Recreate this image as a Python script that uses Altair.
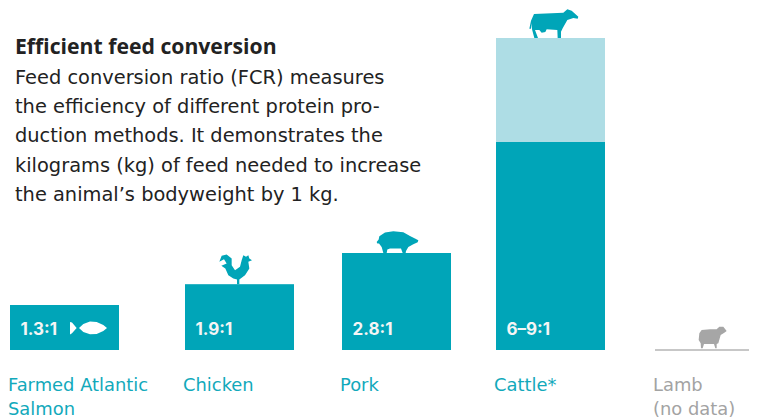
import altair as alt
import pandas as pd

categories = ["Farmed Atlantic\nSalmon", "Chicken", "Pork", "Cattle*"]
low_values = [1.3, 1.9, 2.8, 6]
high_values = [1.3, 1.9, 2.8, 9]
ratio_labels = ["1.3:1", "1.9:1", "2.8:1", "6–9:1"]
slots = [0, 1, 2, 3]
lamb_label = "Lamb\n(no data)"
title_text = "Efficient feed conversion"
body_text = ("Feed conversion ratio (FCR) measures\n"
             "the efficiency of different protein pro-\n"
             "duction methods. It demonstrates the\n"
             "kilograms (kg) of feed needed to increase\n"
             "the animal’s bodyweight by 1 kg.")

TEAL = "#00A5B8"
LIGHT = "#AEDDE5"
GREY = "#A6A6A6"
FONT = "DejaVu Sans"
BOLD = "Open Sans"


def glyph(groups, ox, oy):
    """Outline traced in 3x pixels -> symbol path relative to the anchor (size=4 means 1 unit = 1 px)."""
    out = []
    for pts in groups:
        s = " L ".join(f"{x / 3 - ox:.2f} {y / 3 - oy:.2f}" for x, y in pts)
        out.append(f"M {s} Z")
    return " ".join(out)


fish = glyph([
    [(57, 48), (70, 36), (90, 29), (110, 30), (130, 39), (141, 48), (130, 57), (110, 66), (90, 67), (70, 60)],
    [(30, 30), (36, 32), (50, 48), (36, 64), (30, 68)],
], 4.5, -7)
chicken = glyph([[(718, 192), (718, 178), (735, 165), (748, 145), (745, 125), (756, 120), (748, 115), (745, 105),
                  (738, 110), (730, 105), (725, 120), (720, 140), (705, 150), (695, 135), (695, 115), (680, 103),
                  (665, 107), (658, 125), (672, 117), (680, 130), (664, 137), (676, 145), (685, 165), (700, 175),
                  (711, 178), (711, 192)]], 239.5, 64)
pig = glyph([[(20, 45), (26, 38), (28, 28), (45, 17), (70, 13), (100, 16), (120, 27), (135, 35), (145, 40), (143, 46),
              (130, 52), (115, 60), (108, 72), (107, 78), (98, 78), (93, 65), (60, 65), (52, 68), (50, 78), (40, 78),
              (35, 60), (27, 50), (22, 50)]], 26.5, 26)
cow = glyph([[(148, 86), (153, 62), (162, 42), (250, 38), (262, 28), (275, 32), (295, 50), (293, 56), (280, 54),
              (262, 60), (248, 85), (243, 95), (243, 114), (233, 114), (232, 90), (200, 88), (196, 96), (185, 98),
              (178, 90), (165, 90), (174, 114), (163, 114), (156, 88), (156, 70), (153, 86)]], 70.5, 38)
sheep = glyph([[(28, 40), (35, 30), (60, 28), (80, 28), (88, 20), (100, 20), (110, 33), (103, 38), (92, 45), (85, 70),
                (80, 72), (80, 85), (76, 85), (72, 72), (42, 72), (38, 85), (33, 85), (32, 70), (26, 60)]], 16, 30)

bars = pd.DataFrame({"slot": slots, "low": low_values, "high": high_values,
                     "cat": categories, "ratio": ratio_labels,
                     "icon": [fish, chicken, pig, cow],
                     "tint": ["#FFFFFF", TEAL, TEAL, TEAL]})
lamb = pd.DataFrame({"slot": [4], "zero": [0], "cat": [lamb_label], "icon": [sheep], "tint": [GREY]})

x = alt.X("slot:Q", axis=None,
          scale=alt.Scale(domain=[0, 1, 2, 3, 4], range=[56.5, 231.5, 388.5, 542.5, 698], padding=0))
yscale = alt.Scale(domain=[0, 9], range=[342, 30], nice=False, zero=False, padding=0)


def Y(f):
    return alt.Y(f, axis=None, scale=yscale)


base = alt.Chart(bars)
high = base.mark_bar(width=109, color=LIGHT).encode(x=x, y=Y("high:Q"))
low = base.mark_bar(width=109, color=TEAL).encode(x=x, y=Y("low:Q"))
ratio = alt.Chart(bars).transform_calculate(z="0").mark_text(
    align="left", baseline="alphabetic", dx=-44, dy=-15, font="Inter", fontWeight="bold", fontSize=17, color="#F5F5F5"
).encode(x=x, y=Y("z:Q"), text="ratio:N")
cat = alt.Chart(bars).transform_calculate(z="0").mark_text(
    align="left", baseline="alphabetic", dx=-56.5, dy=41, font=FONT, fontSize=17.9, lineBreak="\n", lineHeight=24,
    color="#12A9BB"
).encode(x=x, y=Y("z:Q"), text="cat:N")
icons = base.mark_point(filled=True, opacity=1, strokeWidth=0, size=4).encode(
    x=x, y=Y("high:Q"), shape=alt.Shape("icon:N", scale=None), color=alt.Color("tint:N", scale=None))

lamb_base = alt.Chart(lamb)
lamb_line = lamb_base.mark_tick(orient="horizontal", size=102, thickness=1.5, color="#B5B5B5", opacity=1).encode(
    x=x, y=Y("zero:Q"))
lamb_icon = lamb_base.mark_point(filled=True, opacity=1, strokeWidth=0, size=4).encode(
    x=x, y=Y("zero:Q"), shape=alt.Shape("icon:N", scale=None), color=alt.Color("tint:N", scale=None))
lamb_text = lamb_base.mark_text(
    align="left", baseline="alphabetic", dx=-53, dy=41, font=FONT, fontSize=17.9, lineBreak="\n", lineHeight=24,
    color="#A3A3A3"
).encode(x=x, y=Y("zero:Q"), text="cat:N")

title = alt.Chart(pd.DataFrame({"t": [title_text]})).mark_text(
    align="left", baseline="alphabetic", font=BOLD, fontWeight="bold", fontSize=21.2, color="#222222"
).encode(x=alt.value(7), y=alt.value(46), text="t:N")
body = alt.Chart(pd.DataFrame({"t": [body_text]})).mark_text(
    align="left", baseline="alphabetic", font=FONT, fontSize=19.4, lineBreak="\n", lineHeight=29.4, color="#222222"
).encode(x=alt.value(7), y=alt.value(75.5), text="t:N")

chart = alt.layer(
    high, low, ratio, cat, icons, lamb_line, lamb_icon, lamb_text, title, body
).properties(width=741, height=411, padding=0, autosize=alt.AutoSizeParams(type="none"), background="white"
).configure_view(stroke=None)

chart.save("out.html", embed_options={"renderer": "svg", "actions": False})
